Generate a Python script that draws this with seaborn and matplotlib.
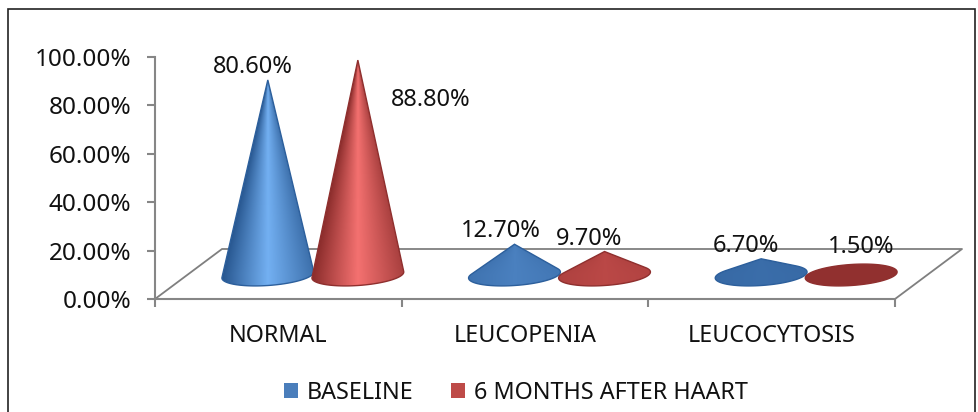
import numpy as np
import pandas as pd
import matplotlib
matplotlib.use("Agg")
import matplotlib.pyplot as plt
import seaborn as sns
from matplotlib.colors import LinearSegmentedColormap, to_rgb
from matplotlib.patches import Patch, Polygon, Rectangle

categories = ["NORMAL", "LEUCOPENIA", "LEUCOCYTOSIS"]
baseline = [80.6, 12.7, 6.7]
after_haart = [88.8, 9.7, 1.5]
series_names = ["BASELINE", "6 MONTHS AFTER HAART"]
y_ticks = [0, 20, 40, 60, 80, 100]

# dark edge, mid, bright centre, outline
blue = ["#27568f", "#4a80bf", "#73b0f2", "#2c5f9c"]
red = ["#8a2c2b", "#c64f4d", "#f47170", "#8f2f2e"]
legend_colors = ["#4a7ebb", "#be4b48"]
axis_grey = "#868686"

df = pd.DataFrame({"group": categories, series_names[0]: baseline, series_names[1]: after_haart})
df = df.melt(id_vars="group", var_name="series", value_name="value")

sns.set_style("white")
plt.rcParams["font.family"] = ["Noto Sans", "DejaVu Sans"]

fig = plt.figure(figsize=(9.79, 4.12), dpi=100)
ax = fig.add_axes([155 / 979, 1 - 299 / 412, 740 / 979, 242 / 412])
sns.barplot(data=df, x="group", y="value", hue="series", width=0.73, legend=False, ax=ax)

# pixel sizes of the fake 3d floor
px_x = 740 / 3
px_y = 242 / 100
depth_x = 67 / px_x
depth_y = 50 / px_y
floor_y = 24 / px_y
floor_x = 34.5 / px_x
ell_h = 10.5 / px_y
ell_tilt = 3 / px_y

ax.plot([-0.5, -0.5 + depth_x, 2.5 + depth_x, 2.5], [0, depth_y, depth_y, 0],
        color="#7f7f7f", lw=1.3, clip_on=False, zorder=1)


def hull(points):
    pts = sorted(map(tuple, points))
    def half(seq):
        out = []
        for p in seq:
            while len(out) > 1 and (out[-1][0] - out[-2][0]) * (p[1] - out[-2][1]) - (out[-1][1] - out[-2][1]) * (p[0] - out[-2][0]) <= 0:
                out.pop()
            out.append(p)
        return out[:-1]
    return np.array(half(pts) + half(pts[::-1]))


def draw_cone(bar, colors, z):
    w = bar.get_width()
    v = bar.get_height()
    xc = bar.get_x() + w / 2 + floor_x
    half_w = w / 2 * 1.02
    tip_y = floor_y + v
    t = np.linspace(0, 2 * np.pi, 120)
    ex = xc + half_w * np.cos(t)
    ey = floor_y + ell_tilt * np.cos(t) + ell_h * np.sin(t)
    pts = np.vstack([np.c_[ex, ey], [[xc, tip_y]]])
    shape = Polygon(hull(pts), closed=True, facecolor="none", edgecolor=colors[3], lw=1,
                    zorder=z + 1, clip_on=False)
    ax.add_patch(shape)
    rgb = np.array([to_rgb(c) for c in colors[:3]])
    centre = [np.interp(v, [0, 12, 80], rgb[:, i]) for i in range(3)]
    edge = [np.interp(v, [0, 40], [centre[i], rgb[0, i]]) for i in range(3)]
    right = [np.interp(0.7, [0, 1], [centre[i], edge[i]]) for i in range(3)]
    cmap = LinearSegmentedColormap.from_list("cone", [edge, centre, right])
    # shade by position across the cone at each height, so it narrows to the tip
    top = max(tip_y, floor_y + ell_h + ell_tilt)
    gx, gy = np.meshgrid(np.linspace(xc - half_w, xc + half_w, 200), np.linspace(0, top, 300))
    local_w = half_w * np.clip((tip_y - gy) / max(v, 1e-6), 0.02, 1)
    shade = np.clip((gx - xc) / local_w, -1, 1) / 2 + 0.5
    im = ax.imshow(shade, cmap=cmap, aspect="auto", origin="lower", vmin=0, vmax=1,
                   extent=[xc - half_w, xc + half_w, 0, top], zorder=z)
    im.set_clip_box(fig.bbox)
    im.set_clip_path(shape)


bars = list(ax.patches)
for b in bars:
    b.set_visible(False)
for i in range(len(categories)):
    draw_cone(bars[i], blue, 3 + i * 4)
    draw_cone(bars[i + 3], red, 5 + i * 4)
ax.set_xlim(-0.5, 2.5)
ax.set_ylim(0, 100)

# label offsets from each cone tip, in pixels
label_offsets = [(-15, 13), (-14, 13), (-15, 13), (73, -40), (-15, 13), (10, 24)]
for b, off in zip(bars, label_offsets):
    tip = (b.get_x() + b.get_width() / 2 + floor_x, floor_y + b.get_height())
    ax.annotate(f"{b.get_height():.2f}%", tip, xytext=off, textcoords="offset pixels",
                ha="center", va="center", fontsize=17, color="#111111", zorder=30)

for s in ["top", "right"]:
    ax.spines[s].set_visible(False)
for s in ["left", "bottom"]:
    ax.spines[s].set_color(axis_grey)
    ax.spines[s].set_linewidth(1.5)

ax.set_xlabel("")
ax.set_ylabel("")
ax.set_yticks(y_ticks, [f"{v:.2f}%" for v in y_ticks])
ax.set_xticks(range(len(categories)), categories)
ax.set_xticks([-0.5, 0.5, 1.5, 2.5], minor=True)
ax.tick_params(axis="y", left=True, length=6, width=1.5, color=axis_grey, pad=11, labelsize=17.5, labelcolor="#111111")
ax.tick_params(axis="x", which="major", bottom=False, length=0, pad=18, labelsize=16.8, labelcolor="#111111")
ax.tick_params(axis="x", which="minor", bottom=True, length=6, width=1.5, color=axis_grey)

handles = [Patch(facecolor=c, edgecolor="none") for c in legend_colors]
fig.legend(handles, series_names, loc="center", bbox_to_anchor=(516 / 979, 1 - 393 / 412), ncol=2, frameon=False,
           fontsize=16.8, handlelength=0.6, handleheight=0.6, handletextpad=0.4, columnspacing=1.6,
           labelcolor="#111111")

fig.add_artist(Rectangle((8 / 979, -0.2), 967 / 979, 1.2 - 9 / 412, transform=fig.transFigure,
                         facecolor="none", edgecolor="#222222", lw=1.2))
fig.savefig("out.png", dpi=100)
